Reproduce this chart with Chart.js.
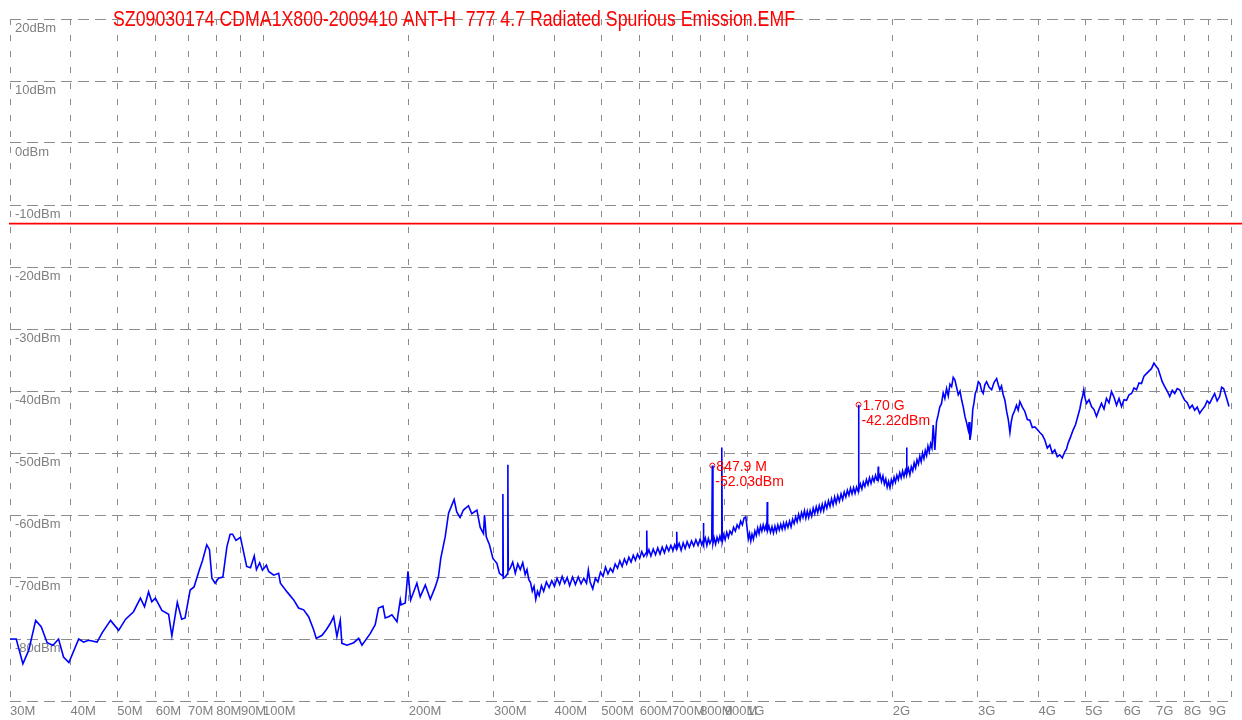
<!DOCTYPE html>
<html>
<head>
<meta charset="utf-8">
<script src="https://cdn.jsdelivr.net/npm/chart.js@4.4.1/dist/chart.umd.min.js"></script>
<style>
  html, body { margin: 0; padding: 0; background: #fff; }
  #wrap { width: 1242px; height: 720px; }
</style>
</head>
<body>
<div id="wrap"><canvas id="emf"></canvas></div>
<script>
const title = 'SZ09030174 CDMA1X800-2009410 ANT-H  777 4.7 Radiated Spurious Emission.EMF';

// frequency in MHz, level in dBm
const freqMHz = [
  30.0, 30.9, 31.9, 32.8, 33.9, 34.8, 35.8, 36.8, 37.8, 38.7, 39.7, 41.6, 42.6, 43.6, 45.4, 46.5,
  48.4, 50.3, 52.0, 54.0, 55.8, 56.9, 58.0, 58.9, 59.9, 61.8, 63.8, 64.8, 66.5, 67.9, 69.0, 70.7,
  72.0, 73.9, 75.0, 76.5, 77.5, 78.4, 79.6, 80.9, 82.6, 84.2, 85.5, 86.5, 87.9, 89.8, 92.5, 94.2,
  95.9, 96.9, 98.4, 99.7, 101.6, 102.7, 105.2, 107.7, 108.6, 112.1, 115.7, 118.4, 121.3, 124.2,
  127.2, 128.8, 132.4, 135.1, 137.7, 139.9, 142.1, 144.4, 145.5, 149.1, 153.9, 157.6, 160.1,
  166.6, 170.5, 173.2, 176.9, 178.8, 181.7, 184.6, 189.1, 192.1, 192.9, 196.7, 199.3, 201.8,
  207.9, 211.2, 216.4, 221.6, 226.9, 230.3, 232.9, 237.9, 241.7, 245.5, 248.2, 251.3, 255.3,
  259.4, 265.7, 270.0, 276.6, 281.0, 285.4, 286.8, 289.2, 293.6, 298.5, 304.2, 307.9, 312.4,
  313.0, 313.6, 316.4, 319.9, 320.5, 321.1,
  324, 328, 332, 336, 340, 344, 348, 351, 354, 357,
  360, 363, 366, 369, 372, 376, 380, 385, 390, 395,
  400, 405, 410, 415, 420, 425, 430, 436, 442, 448,
  454, 460, 466, 470, 474, 480, 486, 492, 498, 504,
  510, 516, 522, 528, 534, 540, 546, 552, 558, 564,
  570, 576, 582, 588, 594, 600, 606, 612, 619.5, 620.6,
  621.7, 627, 633, 640, 647, 654, 661, 668, 675, 682,
  689, 696, 703, 709, 714.6, 715.8, 717, 724, 731, 738,
  745, 752, 760, 768, 776, 784, 792, 800, 806, 811.3,
  812.6, 813.9, 820, 826, 832, 838, 845.5, 847.9, 850.3, 855,
  861, 867, 873, 879, 884.6, 886.8, 889, 895, 901, 908,
  915, 922, 930, 938, 946, 954, 962, 970, 978, 986,
  994, 1000, 1006, 1012, 1018, 1024, 1031, 1038, 1045, 1052,
  1059, 1066, 1073, 1080, 1087, 1094, 1099, 1101, 1103, 1110,
  1118, 1126, 1134, 1142, 1150, 1158, 1166, 1174, 1182, 1190,
  1198, 1206, 1215, 1224, 1233, 1242, 1251, 1260, 1269, 1278,
  1287, 1296, 1305, 1314, 1323, 1332, 1341, 1350, 1360, 1370,
  1380, 1390, 1400, 1410, 1420, 1430, 1440, 1451, 1462, 1473,
  1484, 1495, 1506, 1517, 1528, 1540, 1552, 1564, 1576, 1588,
  1600, 1612, 1624, 1636, 1648, 1660, 1672, 1684, 1697, 1700,
  1703, 1715, 1727, 1739, 1752, 1765, 1778, 1791, 1804, 1817,
  1830, 1843, 1856, 1864, 1867, 1870, 1883, 1896, 1909, 1922,
  1935, 1948, 1961, 1974, 1987, 2000, 2013, 2026, 2040, 2054,
  2068, 2082, 2096, 2110, 2124, 2134, 2137, 2140, 2155, 2170,
  2185, 2200, 2215, 2230, 2245, 2260, 2275, 2290, 2305, 2320,
  2335, 2350, 2365, 2380, 2395, 2410, 2425, 2444, 2463, 2482,
  2502, 2523, 2543, 2563, 2584, 2605, 2626, 2647, 2667, 2688,
  2710, 2732, 2755, 2777, 2798, 2820, 2842, 2865, 2877, 2888,
  2900, 2912, 2927, 2943, 2962, 2982, 3005, 3029, 3052, 3076,
  3100, 3126, 3164, 3202, 3240, 3279, 3305, 3330, 3356, 3383,
  3411, 3439, 3466, 3493, 3515, 3538, 3571, 3604, 3633, 3662,
  3706, 3750, 3795, 3840, 3886, 3932, 3980, 4027, 4075, 4124,
  4173, 4223, 4273, 4324, 4376, 4428, 4481, 4535, 4571, 4607,
  4662, 4717, 4774, 4832, 4871, 4910, 4937, 4964, 4996, 5029,
  5089, 5149, 5211, 5273, 5336, 5400, 5465, 5530, 5596, 5663,
  5732, 5801, 5870, 5940, 6011, 6083, 6156, 6230, 6304, 6379,
  6456, 6533, 6610, 6688, 6768, 6848, 6930, 7013, 7068, 7124,
  7209, 7295, 7383, 7471, 7561, 7651, 7742, 7833, 7928, 8023,
  8119, 8216, 8315, 8414, 8514, 8615, 8718, 8822, 8928, 9034,
  9142, 9251, 9362, 9474, 9564, 9655, 9780, 9905
];
const levelDBm = [
  -80.0, -80.0, -84.0, -81.8, -77.0, -78.0, -80.6, -81.0, -80.0, -82.9, -83.8, -80.0, -80.5, -80.2, -80.5, -79.0,
  -77.0, -78.6, -76.8, -75.6, -73.4, -74.8, -72.4, -74.0, -73.4, -75.4, -76.0, -79.5, -74.1, -76.8, -76.6, -72.1,
  -71.6, -68.8, -67.3, -64.8, -65.6, -70.2, -71.0, -70.2, -70.0, -65.1, -63.1, -63.1, -64.1, -63.6, -68.3, -68.5,
  -66.6, -68.8, -67.7, -68.9, -68.1, -69.1, -69.7, -69.4, -71.0, -72.4, -73.7, -75.0, -75.3, -76.4,
  -78.5, -79.9, -79.4, -78.5, -77.5, -76.4, -79.6, -77.0, -80.7, -81.0, -80.6, -79.9, -81.0,
  -79.1, -77.7, -75.0, -74.7, -76.6, -76.4, -76.1, -77.2, -73.7, -74.5, -74.2, -69.1, -73.7,
  -71.0, -73.2, -71.3, -73.6, -71.6, -70.0, -67.0, -63.5, -59.7, -58.4, -57.5, -59.5, -60.4,
  -59.2, -58.5, -59.8, -59.2, -62.0, -63.0, -60.0, -63.5, -64.8, -67.0, -67.8, -69.4, -69.8,
  -56.6, -70.2, -70.0, -69.5, -51.9, -69.0,
  -68.6, -67.6, -69.4, -67.9, -68.8, -67.7, -69.6, -68.8, -70.4, -70.9,
  -72.3, -71.5, -73.6, -72.3, -73.0, -71.4, -72.3, -70.8, -71.7, -70.6,
  -71.5, -70.2, -71.2, -69.9, -71.0, -70.1, -71.4, -70.0, -71.2, -70.0,
  -71.1, -70.2, -71.0, -68.9, -70.8, -71.9, -70.2, -70.8, -69.2, -69.9,
  -68.4, -69.5, -68.6, -69.2, -67.9, -68.6, -67.4, -68.3, -67.1, -67.9,
  -66.8, -67.6, -66.5, -67.3, -66.3, -67.0, -65.9, -66.7, -66.0, -62.5,
  -66.4, -65.6, -66.6, -65.5, -66.4, -65.3, -66.3, -65.2, -66.1, -65.0,
  -65.8, -64.9, -65.7, -64.8, -65.5, -62.7, -65.4, -64.6, -65.7, -64.5,
  -65.4, -64.3, -65.2, -64.2, -65.0, -64.0, -64.9, -63.9, -64.8, -64.2,
  -61.3, -64.6, -63.7, -64.9, -63.8, -64.6, -63.9, -52.03, -64.6, -63.7,
  -64.7, -63.6, -64.3, -63.4, -64.2, -49.1, -64.3, -63.2, -64.0, -62.8,
  -63.6, -62.6, -63.1, -62.0, -62.6, -61.6, -62.1, -61.0, -61.6, -60.5,
  -60.3, -62.0, -63.9, -63.0, -64.2, -63.1, -63.9, -62.6, -63.3, -62.1,
  -63.0, -61.8, -62.6, -61.6, -62.4, -61.7, -62.6, -57.9, -62.5, -61.8,
  -62.8, -61.9, -62.9, -61.8, -62.7, -61.6, -62.4, -61.5, -62.3, -61.3,
  -62.2, -61.2, -62.0, -61.0, -61.9, -60.7, -61.4, -60.3, -61.1, -59.9,
  -60.8, -59.6, -60.4, -59.3, -60.5, -59.4, -60.4, -59.3, -60.2, -58.9,
  -59.8, -58.7, -59.6, -58.5, -59.4, -58.3, -59.3, -58.0, -58.9, -57.7,
  -58.6, -57.4, -58.4, -57.1, -58.1, -56.9, -57.8, -56.6, -57.5, -56.3,
  -57.1, -56.0, -56.8, -55.7, -56.6, -55.6, -56.5, -55.5, -56.2, -42.22,
  -56.0, -55.0, -55.8, -54.7, -55.4, -54.3, -55.1, -54.0, -54.9, -53.9,
  -54.6, -53.6, -54.4, -53.7, -52.2, -54.2, -53.5, -54.6, -53.7, -55.0,
  -54.2, -55.5, -54.6, -55.6, -54.3, -55.0, -53.9, -54.7, -53.6, -54.3,
  -53.2, -54.0, -52.9, -53.8, -52.8, -53.4, -49.1, -53.4, -52.5, -53.5,
  -52.2, -52.9, -51.6, -52.4, -51.1, -51.8, -50.5, -51.4, -50.0, -50.9,
  -49.6, -50.4, -48.9, -49.8, -48.5, -49.2, -45.5, -49.5, -45.0, -43.9,
  -42.6, -42.0, -40.3, -41.2, -39.6, -40.8, -38.9, -39.3, -37.8, -38.2,
  -39.4, -40.6, -40.0, -41.5, -42.6, -44.1, -45.1, -46.3, -45.0, -47.9,
  -47.0, -45.8, -43.0, -42.0, -40.4, -39.8, -38.5, -38.8, -39.9, -40.4,
  -39.0, -38.5, -39.4, -39.8, -38.6, -38.0, -39.0, -39.8, -39.2, -40.6,
  -41.5, -43.3, -44.6, -46.7, -45.0, -43.9, -43.2, -42.3, -43.1, -41.7,
  -42.6, -43.3, -44.6, -44.7, -45.9, -45.8, -46.2, -46.7, -47.1, -47.9,
  -49.2, -48.7, -50.0, -49.5, -50.6, -50.3, -50.8, -49.8, -49.4, -48.4,
  -47.4, -46.3, -45.4, -43.9, -42.9, -41.5, -40.8, -39.8, -41.2, -42.0,
  -41.4, -42.5, -43.0, -44.1, -43.0, -42.0, -42.9, -41.2, -41.9, -40.1,
  -41.0, -42.3, -41.2, -42.5, -41.4, -41.5, -40.6, -40.4, -39.5, -39.8,
  -38.7, -38.8, -37.6, -37.2, -36.8, -36.4, -35.5, -36.1, -36.4, -37.2,
  -38.5, -39.3, -40.0, -40.9, -39.9, -40.4, -39.6, -39.8, -40.7, -41.5,
  -41.9, -42.8, -42.3, -43.1, -42.6, -43.6, -43.0, -42.5, -41.6, -42.0,
  -41.2, -40.4, -41.6, -40.9, -39.4, -39.6, -41.0, -42.5
];

const markerFreqs = [847.9, 1700];
const markerLevels = [-52.03, -42.22];
const markerLabels = [['847.9 M', '-52.03dBm'], ['1.70 G', '-42.22dBm']];

const limitLevel = -13;

const xTickValues = [30, 40, 50, 60, 70, 80, 90, 100, 200, 300, 400, 500, 600, 700, 800, 900,
  1000, 2000, 3000, 4000, 5000, 6000, 7000, 8000, 9000, 10000];
const xTickLabels = ['30M', '40M', '50M', '60M', '70M', '80M', '90M', '100M', '200M', '300M', '400M',
  '500M', '600M', '700M', '800M', '900M', '1G', '2G', '3G', '4G', '5G', '6G', '7G', '8G', '9G', ''];
const yTickValues = [20, 10, 0, -10, -20, -30, -40, -50, -60, -70, -80, -90];
const yTickLabels = ['20dBm', '10dBm', '0dBm', '-10dBm', '-20dBm', '-30dBm', '-40dBm', '-50dBm',
  '-60dBm', '-70dBm', '-80dBm', ''];

const tickFont = { family: "'Liberation Sans', Arial", size: 13 };

// limit line, marker texts and the title
const emfOverlay = {
  id: 'emfOverlay',
  beforeDatasetsDraw(chart) {
    const ctx = chart.ctx;
    const y = chart.scales.y.getPixelForValue(limitLevel);
    ctx.save();
    ctx.strokeStyle = '#ff0000';
    ctx.lineWidth = 1.8;
    ctx.beginPath();
    ctx.moveTo(chart.chartArea.left - 1, y);
    ctx.lineTo(chart.width, y);
    ctx.stroke();
    ctx.restore();
  },
  afterDraw(chart) {
    const ctx = chart.ctx;
    const xs = chart.scales.x, ys = chart.scales.y;
    ctx.save();
    ctx.fillStyle = '#ff0000';
    ctx.font = "14px 'Liberation Sans', Arial";
    ctx.textBaseline = 'alphabetic';
    markerFreqs.forEach((f, i) => {
      const px = xs.getPixelForValue(f);
      const py = ys.getPixelForValue(markerLevels[i]);
      ctx.fillText(markerLabels[i][0], px + 4, py + 5);
      ctx.fillText(markerLabels[i][1], px + 3, py + 20);
    });
    // title is squeezed like the original EMF text
    ctx.font = "22px 'Liberation Sans', Arial";
    const w = ctx.measureText(title).width;
    ctx.translate(113, 26);
    ctx.scale(682 / w, 1);
    ctx.fillText(title, 0, 0);
    ctx.restore();
  }
};

new Chart(document.getElementById('emf'), {
  type: 'line',
  data: {
    datasets: [{
      data: freqMHz.map((f, i) => ({ x: f, y: levelDBm[i] })),
      borderColor: '#0000ff',
      borderWidth: 1.6,
      pointRadius: 0,
      tension: 0,
      fill: false
    }, {
      data: markerFreqs.map((f, i) => ({ x: f, y: markerLevels[i] })),
      showLine: false,
      pointRadius: 2.5,
      pointBorderWidth: 1,
      pointBorderColor: '#ff0000',
      pointBackgroundColor: '#ffffff'
    }]
  },
  options: {
    responsive: true,
    maintainAspectRatio: false,
    animation: false,
    layout: { padding: { left: 10, right: 11, top: 19, bottom: 0 } },
    plugins: { legend: { display: false }, tooltip: { enabled: false } },
    scales: {
      x: {
        type: 'logarithmic',
        min: 30,
        max: 10000,
        afterBuildTicks: s => { s.ticks = xTickValues.map(v => ({ value: v })); },
        afterFit: s => { s.height = 19; },
        grid: { color: '#8c8c8c', lineWidth: 1, drawTicks: false },
        border: { display: false, dash: [6, 10] },
        ticks: {
          autoSkip: false,
          maxRotation: 0,
          align: 'start',
          padding: 3,
          color: '#808080',
          font: tickFont,
          callback: (v, i) => xTickLabels[i]
        }
      },
      y: {
        min: -90,
        max: 20,
        afterBuildTicks: s => { s.ticks = yTickValues.map(v => ({ value: v })); },
        afterFit: s => { s.width = 0; },
        grid: { color: '#8c8c8c', lineWidth: 1, drawTicks: false },
        border: { display: false, dash: [11, 6] },
        ticks: {
          mirror: true,
          padding: 5,
          labelOffset: 9,
          color: '#808080',
          font: tickFont,
          callback: (v, i) => yTickLabels[i]
        }
      }
    }
  },
  plugins: [emfOverlay]
});
</script>
</body>
</html>
